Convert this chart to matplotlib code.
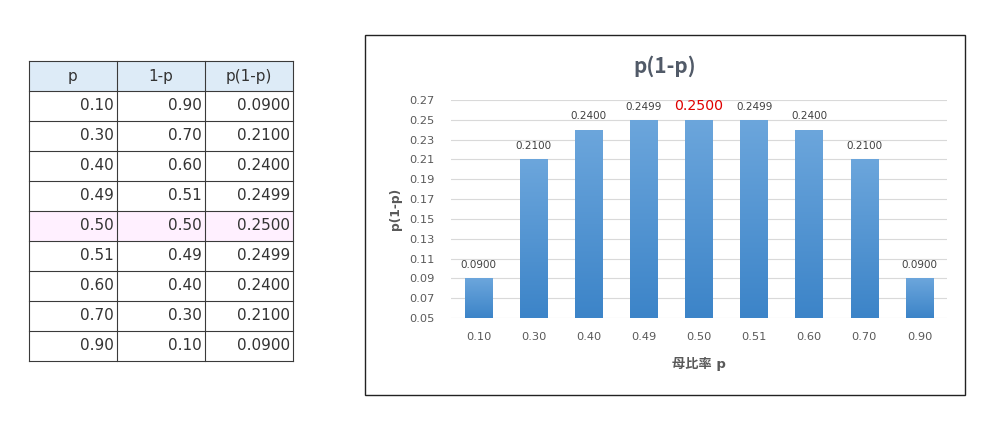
import numpy as np
import matplotlib
matplotlib.use('Agg')
import matplotlib.pyplot as plt
from matplotlib.patches import Rectangle
from matplotlib.colors import LinearSegmentedColormap

plt.rcParams['font.family'] = ['DejaVu Sans', 'Noto Sans CJK JP']

# data
p_labels = ['0.10', '0.30', '0.40', '0.49', '0.50', '0.51', '0.60', '0.70', '0.90']
q_labels = ['0.90', '0.70', '0.60', '0.51', '0.50', '0.49', '0.40', '0.30', '0.10']
pq_values = [0.0900, 0.2100, 0.2400, 0.2499, 0.2500, 0.2499, 0.2400, 0.2100, 0.0900]
headers = ['p', '1-p', 'p(1-p)']
highlight_row = 4
yticks = np.arange(0.05, 0.2701, 0.02)

W, H = 998, 421
fig = plt.figure(figsize=(W / 100, H / 100), dpi=100)

# overlay axes in pixel coords for table + chart frame
bg = fig.add_axes([0, 0, 1, 1])
bg.set_xlim(0, W); bg.set_ylim(H, 0); bg.axis('off')

col_x = [29, 117, 205, 293]
row_h = 30
top = 61
line_c = '#3a3a3a'
txt_c = '#333333'
n_rows = len(p_labels) + 1
for r in range(n_rows):
    y0 = top + r * row_h
    if r == 0:
        fc = '#DDEBF7'
    elif r - 1 == highlight_row:
        fc = '#FFF0FF'
    else:
        fc = 'white'
    bg.add_patch(Rectangle((col_x[0], y0), col_x[-1] - col_x[0], row_h, fc=fc, ec='none'))
    for c in range(3):
        if r == 0:
            bg.text((col_x[c] + col_x[c + 1]) / 2, y0 + row_h / 2, headers[c], ha='center', va='center',
                    fontsize=11, color=txt_c)
        else:
            vals = [p_labels[r - 1], q_labels[r - 1], f'{pq_values[r - 1]:.4f}']
            bg.text(col_x[c + 1] - 3, y0 + row_h / 2, vals[c], ha='right', va='center',
                    fontsize=11, color=txt_c)
for r in range(n_rows + 1):
    y0 = top + r * row_h
    bg.plot([col_x[0], col_x[-1]], [y0, y0], color=line_c, lw=0.8)
for x in col_x:
    bg.plot([x, x], [top, top + n_rows * row_h], color=line_c, lw=0.8)

# chart frame
bg.add_patch(Rectangle((365, 35), 600, 360, fc='none', ec='#222222', lw=1.0))
bg.text(665, 66, 'p(1-p)', ha='center', va='center', fontsize=15, fontweight='bold', color='#515A68',
        family=['Noto Sans CJK JP'])

# bar chart
ax = fig.add_axes([451 / W, 1 - 318 / H, 496 / W, 218 / H])
x = np.arange(len(p_labels))
bar_w = 0.5
ax.set_yticks(yticks)
ax.set_yticklabels([f'{v:.2f}' for v in yticks])
ax.set_xticks(x)
ax.set_xticklabels(p_labels)
ax.tick_params(length=0, labelsize=8.2, colors='#595959')
ax.tick_params(axis='x', pad=10)
ax.tick_params(axis='y', pad=12)
for s in ax.spines.values():
    s.set_visible(False)
ax.grid(axis='y', color='#D9D9D9', lw=0.8)
ax.set_axisbelow(True)

cmap = LinearSegmentedColormap.from_list('bar', ['#3C84C8', '#6CA6DC'])
grad = np.linspace(0, 1, 256).reshape(-1, 1)
bars = ax.bar(x, pq_values, width=bar_w, bottom=0, color='none', zorder=2)
for b, v in zip(bars, pq_values):
    x0 = b.get_x()
    im = ax.imshow(grad, cmap=cmap, aspect='auto', origin='lower',
                   extent=[x0, x0 + bar_w, 0.05, v], zorder=2)
    im.set_clip_path(b)
ax.set_xlim(-0.5, len(p_labels) - 0.5)
ax.set_ylim(0.05, 0.27)

for xi, v in zip(x, pq_values):
    is_max = v == max(pq_values)
    ax.annotate(f'{v:.4f}', (xi, v), xytext=(0, 5 if is_max else 6), textcoords='offset points',
                ha='center', va='bottom',
                fontsize=10.2 if is_max else 7.5, color='#E00000' if is_max else '#404040')

ax.set_xlabel('母比率 p', fontsize=9.5, fontweight='bold', color='#595959', labelpad=11)
ax.set_ylabel('p(1-p)', fontsize=8.8, fontweight='bold', color='#595959', labelpad=5)

fig.savefig('out.png', dpi=100)
